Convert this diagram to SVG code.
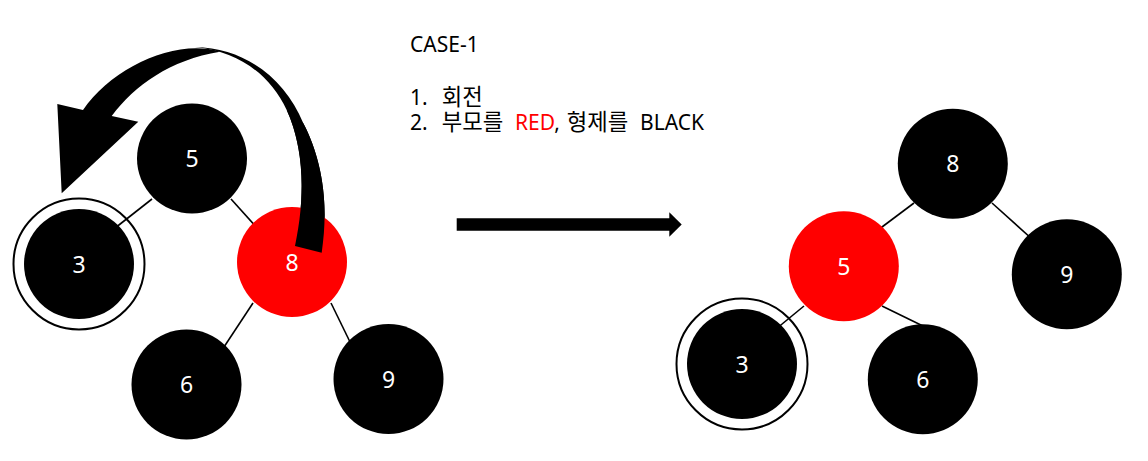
<svg xmlns="http://www.w3.org/2000/svg" width="1148" height="461" viewBox="0 0 1148 461">
<style>
.blk{fill:#000}
.red{fill:#ff0000}
.ring{fill:none;stroke:#000;stroke-width:2}
.edge{stroke:#000;stroke-width:1.6;fill:none}
.num{fill:#fff;font-family:"Noto Sans","Noto Sans CJK KR",sans-serif;font-size:23px;text-anchor:middle}
.txt{fill:#000;font-family:"Noto Sans","Noto Sans CJK KR",sans-serif;font-size:21px}
.ko{font-size:22.3px}
</style>
<rect width="1148" height="461" fill="#fff"/>
<g id="connectors">
<line class="edge" x1="152" y1="199" x2="110" y2="232"/>
<line class="edge" x1="231" y1="199" x2="258" y2="229"/>
<line class="edge" x1="253" y1="303" x2="222" y2="350"/>
<line class="edge" x1="331" y1="303" x2="351" y2="344"/>
<line class="edge" x1="914" y1="203" x2="878" y2="230"/>
<line class="edge" x1="992" y1="203" x2="1032" y2="239"/>
<line class="edge" x1="804" y1="306" x2="776" y2="329"/>
<line class="edge" x1="882" y1="306" x2="925" y2="327"/>
</g>
<g id="rotate-arrow">
<path class="blk" d="M220,51.7 C175,38 112,68 83,110 L57.3,104 L61.7,193.3 L138.3,121.7 L111.7,116 C135,85 170,60 220,51.7 Z"/>
<path class="blk" d="M195,47 C245,48 285,78 303.3,123.3 C320,155 330,200 321.7,252.7 L295,246 C305,200 305,150 286.7,110 C270,75 240,52 195,47 Z"/>
</g>
<g id="left-n5"><circle class="blk" cx="192" cy="158.5" r="55"/><text class="num" x="192" y="167">5</text></g>
<g id="left-n3"><circle class="ring" cx="79" cy="264" r="65.5"/><circle class="blk" cx="79" cy="264" r="55"/><text class="num" x="79" y="272.5">3</text></g>
<g id="left-n8"><circle class="red" cx="292" cy="262" r="55"/><text class="num" x="292" y="270.5">8</text></g>
<g id="rotate-arrow-tail"><path class="blk" d="M303.3,123.3 C320,155 330,200 321.7,252.7 L295,246 C305,200 305,150 286.7,110 Z"/></g>
<g id="left-n6"><circle class="blk" cx="186.5" cy="384.5" r="55"/><text class="num" x="186.5" y="393">6</text></g>
<g id="left-n9"><circle class="blk" cx="388.5" cy="379" r="55"/><text class="num" x="388.5" y="387.5">9</text></g>
<g id="title">
<text class="txt" x="410" y="52">CASE-1</text>
<text class="txt" y="105"><tspan x="410">1.</tspan><tspan class="ko" x="441.7">회전</tspan></text>
<text class="txt" y="129.5"><tspan x="410">2.</tspan><tspan class="ko" x="441.7">부모를</tspan><tspan x="515" fill="#ff0000">RED</tspan><tspan>,</tspan><tspan class="ko" x="566.7">형제를</tspan><tspan x="640">BLACK</tspan></text>
</g>
<g id="transform-arrow"><path class="blk" d="M456.7,218.3 L669.3,218.3 L669.3,212.3 L681.7,224.5 L669.3,236.7 L669.3,230.7 L456.7,230.7 Z"/></g>
<g id="right-n8"><circle class="blk" cx="952.8" cy="163.7" r="55"/><text class="num" x="952.8" y="172">8</text></g>
<g id="right-n5"><circle class="red" cx="843.8" cy="266.2" r="55"/><text class="num" x="843.8" y="274.5">5</text></g>
<g id="right-n9"><circle class="blk" cx="1066.8" cy="274.2" r="55"/><text class="num" x="1066.8" y="282.5">9</text></g>
<g id="right-n3"><circle class="ring" cx="742" cy="364" r="65.5"/><circle class="blk" cx="742" cy="364" r="55"/><text class="num" x="742" y="372.5">3</text></g>
<g id="right-n6"><circle class="blk" cx="922.8" cy="379.2" r="55"/><text class="num" x="922.8" y="387.5">6</text></g>
</svg>
